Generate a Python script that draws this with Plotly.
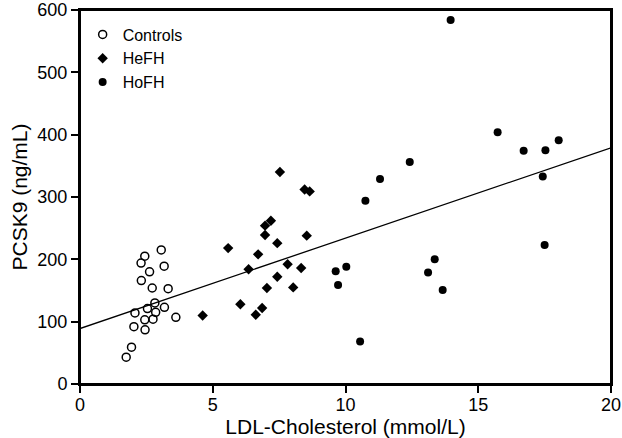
import plotly.graph_objects as go

# Controls
ctrl_x = [3.06, 2.44, 2.30, 3.17, 2.62, 2.31, 2.72, 3.32, 2.82, 2.54, 3.18, 2.85, 2.07, 2.44, 2.75, 3.61, 2.03, 2.45, 1.94, 1.74]
ctrl_y = [215, 205, 194, 189, 180, 166, 154, 153, 130, 121, 123, 115, 114, 103, 104, 107, 92, 87, 59, 43]

# HeFH
hefh_x = [4.62, 5.58, 6.04, 6.35, 6.62, 6.71, 6.86, 6.97, 6.97, 7.04, 7.19, 7.43, 7.43, 7.53, 7.82, 8.03, 8.33, 8.46, 8.54, 8.65]
hefh_y = [110, 218, 128, 184, 111, 208, 122, 254, 239, 154, 262, 226, 172, 340, 192, 155, 186, 312, 238, 309]

# HoFH
hofh_x = [13.96, 15.73, 16.71, 17.53, 18.03, 17.43, 17.50, 12.42, 11.30, 10.75, 9.63, 9.72, 10.03, 10.55, 13.11, 13.36, 13.66]
hofh_y = [584, 404, 374, 375, 391, 333, 223, 356, 329, 294, 181, 159, 188, 68, 179, 200, 151]

# Regression line endpoints
fit_x = [0, 20]
fit_y = [89, 379]

x_ticks = [0, 5, 10, 15, 20]
y_ticks = [0, 100, 200, 300, 400, 500, 600]

FONT = "Liberation Sans, Arial, sans-serif"

fig = go.Figure()
fig.add_trace(go.Scatter(x=fit_x, y=fit_y, mode="lines", line=dict(color="black", width=1.3),
                         showlegend=False, hoverinfo="skip"))
fig.add_trace(go.Scatter(x=ctrl_x, y=ctrl_y, mode="markers", name="Controls",
                         marker=dict(symbol="circle-open", size=8, color="black", line=dict(width=1.5))))
fig.add_trace(go.Scatter(x=hefh_x, y=hefh_y, mode="markers", name="HeFH",
                         marker=dict(symbol="diamond", size=8, color="black")))
fig.add_trace(go.Scatter(x=hofh_x, y=hofh_y, mode="markers", name="HoFH",
                         marker=dict(symbol="circle", size=8, color="black")))

axis_common = dict(showline=True, linecolor="black", linewidth=2, mirror=True,
                   ticks="outside", ticklen=7, tickwidth=2, tickcolor="black",
                   showgrid=False, zeroline=False, automargin=False,
                   ticklabeloverflow="allow",
                   tickfont=dict(family=FONT, size=18, color="black"))

fig.update_layout(
    template="none",
    width=622, height=438,
    margin=dict(l=80, r=11, t=10, b=54),
    paper_bgcolor="white", plot_bgcolor="white",
    font=dict(family=FONT, color="black"),
    xaxis=dict(range=[0, 20], tickvals=x_ticks, ticklabelstandoff=-4,
               title=dict(text="LDL-Cholesterol (mmol/L)", font=dict(family=FONT, size=21)),
               **axis_common),
    yaxis=dict(range=[0, 600], tickvals=y_ticks,
               title=dict(text="PCSK9 (ng/mL)", font=dict(family=FONT, size=21)),
               **axis_common),
    legend=dict(x=0.005, y=0.98, xanchor="left", yanchor="top", bgcolor="rgba(0,0,0,0)",
                font=dict(family=FONT, size=16, color="black"), itemwidth=30),
    shapes=[dict(type="rect", xref="paper", yref="paper", x0=0, x1=1, y0=0, y1=1,
                 fillcolor="rgba(0,0,0,0)", opacity=1,
                 line=dict(color="black", width=2), layer="above")],
    showlegend=True,
)

fig.write_html("out.html", config={"displayModeBar": False},
               post_script="document.body.style.margin='0';")
